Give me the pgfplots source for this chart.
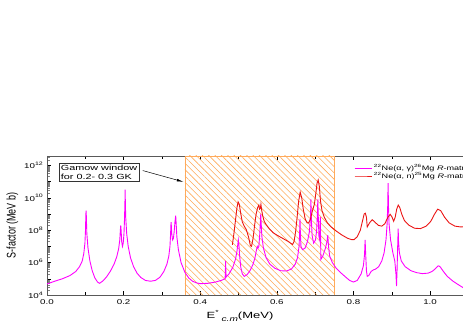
\documentclass[border=0pt]{standalone}
\usepackage{pgfplots}
\pgfplotsset{compat=1.18}
\usepackage{fontspec}
\setmainfont{Liberation Sans}
\usetikzlibrary{patterns.meta,arrows.meta}
\definecolor{mag}{RGB}{255,0,255}
\definecolor{rd}{RGB}{235,20,20}
\definecolor{hatch}{RGB}{255,170,90}
\newcommand{\hs}[1]{\scalebox{1.4}[1]{#1}}
\begin{document}
\begin{tikzpicture}
\useasboundingbox (0,0) rectangle (463bp,327bp);
\begin{axis}[
  at={(47bp,32bp)}, anchor=south west,
  scale only axis, width=429bp, height=139bp,
  xmin=0, xmax=1.12, ymin=4, ymax=12.58,
  xtick={0,0.2,0.4,0.6,0.8,1.0},
  xticklabels={\hs{0.0},\hs{0.2},\hs{0.4},\hs{0.6},\hs{0.8},\hs{1.0}},
  minor xtick={0.1,0.3,0.5,0.7,0.9,1.1},
  ytick={4,5,6,7,8,9,10,11,12},
  yticklabels={\hs{10\textsuperscript{4}},,\hs{10\textsuperscript{6}},,\hs{10\textsuperscript{8}},,\hs{10\textsuperscript{10}},,\hs{10\textsuperscript{12}}},
  minor ytick={4.301,4.477,4.602,4.699,4.778,4.845,4.903,4.954,
               5.301,5.477,5.602,5.699,5.778,5.845,5.903,5.954,
               6.301,6.477,6.602,6.699,6.778,6.845,6.903,6.954,
               7.301,7.477,7.602,7.699,7.778,7.845,7.903,7.954,
               8.301,8.477,8.602,8.699,8.778,8.845,8.903,8.954,
               9.301,9.477,9.602,9.699,9.778,9.845,9.903,9.954,
               10.301,10.477,10.602,10.699,10.778,10.845,10.903,10.954,
               11.301,11.477,11.602,11.699,11.778,11.845,11.903,11.954,
               12.301,12.477},
  tick label style={font=\fontsize{7}{8}\selectfont},
  xticklabel style={yshift=-1bp},
  tick align=inside,
  major tick length=4bp, minor tick length=3bp,
  minor y tick style={gray, line width=0.8pt},
  every tick/.style={black},
  xlabel={\scalebox{1.45}[1]{E\textsuperscript{*}\,\raisebox{-0.7ex}{\fontsize{7}{8}\selectfont\textit{c.m}}(MeV)}},
  ylabel={\scalebox{1}[1.4]{S-factor (MeV b)}},
  label style={font=\fontsize{9}{10}\selectfont},
  xlabel style={at={(ticklabel cs:0.45)}, anchor=north, yshift=1bp},
  ylabel style={yshift=-1bp},
  axis line style={gray!70!black, line width=0.6pt},
  legend style={at={(0.713,0.96)}, anchor=north west, draw=none, fill=none,
    font=\fontsize{6.5}{7}\selectfont, row sep=-3.5pt, inner sep=1pt},
  legend cell align=left,
]
\fill[pattern={Lines[angle=-45,distance=4.5pt,line width=0.6pt]}, pattern color=hatch]
  (axis cs:0.36,4) rectangle (axis cs:0.75,12.58);
\draw[hatch, line width=0.6pt] (axis cs:0.36,4) rectangle (axis cs:0.75,12.58);

\addplot[mag, line width=0.9pt] coordinates {
(0.0,4.68) (0.02,4.85) (0.04,5.0) (0.06,5.2) (0.075,5.45) (0.085,5.75) (0.092,6.1) (0.096,6.55) (0.099,7.2) (0.1005,8.0) (0.1015,9.0) (0.102,9.2) (0.1025,9.0) (0.104,7.8) (0.107,6.9) (0.112,6.1) (0.118,5.5) (0.125,5.05) (0.132,4.8) (0.137,4.72) (0.145,4.85) (0.155,5.1) (0.165,5.45) (0.175,5.9) (0.182,6.35) (0.187,6.85) (0.19,7.4) (0.1915,8.0) (0.1925,8.3) (0.1935,8.0) (0.195,7.3) (0.197,7.0) (0.199,7.2) (0.201,7.8) (0.2025,8.8) (0.2035,9.8) (0.204,10.5) (0.2045,9.8) (0.2055,8.8) (0.208,7.8) (0.212,7.0) (0.218,6.3) (0.226,5.75) (0.235,5.35) (0.245,5.08) (0.257,4.9) (0.27,4.85) (0.283,4.9) (0.295,5.1) (0.305,5.45) (0.313,5.9) (0.318,6.4) (0.321,7.0) (0.3225,7.7) (0.3235,8.3) (0.324,8.5) (0.3245,8.3) (0.326,7.7) (0.328,7.4) (0.330,7.5) (0.332,7.9) (0.334,8.5) (0.336,8.9) (0.337,8.5) (0.339,7.6) (0.343,6.8) (0.35,6.0) (0.36,5.4) (0.37,5.05) (0.38,4.85) (0.39,4.75) (0.40,4.7) (0.42,4.72) (0.44,4.8) (0.455,4.9) (0.465,5.0) (0.4665,6.1) (0.4672,5.1) (0.475,5.3) (0.485,5.7) (0.492,6.2) (0.496,6.7) (0.498,7.1) (0.4995,7.4) (0.501,7.1) (0.503,6.4) (0.506,5.7) (0.51,5.3) (0.515,5.15) (0.522,5.25) (0.53,5.5) (0.538,5.9) (0.543,6.3) (0.547,6.8) (0.549,7.0) (0.551,6.9) (0.553,7.0) (0.555,7.6) (0.557,8.4) (0.558,9.0) (0.559,8.5) (0.561,7.6) (0.565,6.9) (0.572,6.3) (0.582,5.9) (0.595,5.65) (0.61,5.5) (0.625,5.48) (0.638,5.6) (0.648,5.9) (0.654,6.3) (0.658,7.0) (0.6595,7.8) (0.6605,8.7) (0.6615,7.8) (0.663,7.0) (0.667,6.8) (0.674,6.9) (0.68,7.3) (0.685,7.9) (0.688,8.8) (0.689,9.9) (0.690,8.8) (0.692,7.7) (0.696,7.2) (0.701,7.4) (0.704,8.0) (0.706,9.0) (0.707,9.9) (0.708,9.0) (0.710,7.6) (0.712,7.4) (0.7135,8.8) (0.715,6.2) (0.72,6.4) (0.727,6.9) (0.731,7.3) (0.733,7.7) (0.735,7.0) (0.738,6.4) (0.745,6.0) (0.755,5.65) (0.768,5.35) (0.78,5.1) (0.79,4.9) (0.80,4.8) (0.81,4.9) (0.82,5.3) (0.826,5.8) (0.829,6.5) (0.8305,7.4) (0.832,6.5) (0.834,5.5) (0.836,5.15) (0.84,5.2) (0.846,5.45) (0.852,5.55) (0.858,5.6) (0.866,5.75) (0.874,6.1) (0.88,6.6) (0.885,7.4) (0.888,8.4) (0.8895,9.5) (0.8905,10.9) (0.8915,9.5) (0.893,8.4) (0.897,7.4) (0.903,6.6) (0.908,6.1) (0.911,5.3) (0.9125,4.55) (0.914,5.6) (0.9155,7.0) (0.9168,8.1) (0.9178,7.3) (0.92,6.6) (0.925,6.1) (0.935,5.75) (0.95,5.5) (0.965,5.38) (0.98,5.32) (0.995,5.35) (1.005,5.45) (1.013,5.6) (1.02,5.78) (1.023,5.8) (1.027,5.72) (1.035,5.45) (1.045,5.15) (1.06,4.85) (1.075,4.62) (1.09,4.4) (1.12,4.1)
};
\addlegendentry{\hs{\textsuperscript{22}Ne(α, γ)\textsuperscript{26}Mg \textit{R}-matrix}}
\addplot[rd, line width=0.9pt] coordinates {
(0.484,7.1) (0.488,7.8) (0.492,8.6) (0.496,9.4) (0.499,9.75) (0.502,9.6) (0.506,9.0) (0.51,8.5) (0.515,8.25) (0.52,8.05) (0.526,7.6) (0.531,7.05) (0.534,7.0) (0.538,7.5) (0.542,8.3) (0.546,9.0) (0.55,9.4) (0.553,9.55) (0.555,9.3) (0.557,9.35) (0.5585,9.6) (0.56,9.3) (0.563,8.9) (0.567,8.55) (0.572,8.35) (0.58,8.1) (0.59,7.85) (0.60,7.7) (0.615,7.5) (0.63,7.3) (0.641,7.12) (0.645,7.3) (0.649,7.9) (0.653,8.8) (0.657,9.8) (0.661,10.35) (0.665,10.0) (0.669,9.3) (0.674,8.7) (0.679,8.45) (0.683,8.45) (0.688,8.7) (0.693,9.2) (0.698,9.6) (0.702,10.3) (0.705,10.9) (0.708,11.1) (0.711,10.7) (0.714,9.8) (0.718,9.2) (0.724,8.8) (0.732,8.45) (0.742,8.2) (0.755,7.95) (0.77,7.7) (0.785,7.5) (0.795,7.42) (0.802,7.42) (0.81,7.6) (0.818,8.0) (0.824,8.6) (0.828,9.0) (0.831,9.05) (0.834,8.8) (0.836,8.2) (0.842,8.45) (0.849,8.65) (0.856,8.5) (0.865,8.3) (0.874,8.25) (0.882,8.4) (0.89,8.8) (0.896,8.98) (0.901,8.8) (0.905,8.55) (0.909,8.8) (0.913,9.3) (0.917,9.55) (0.921,9.4) (0.926,9.0) (0.933,8.6) (0.945,8.3) (0.96,8.12) (0.975,8.1) (0.99,8.25) (1.002,8.55) (1.012,9.0) (1.02,9.3) (1.028,9.2) (1.038,8.8) (1.05,8.45) (1.065,8.25) (1.08,8.2) (1.09,8.22) (1.12,8.3)
};
\addlegendentry{\hs{\textsuperscript{22}Ne(α, n)\textsuperscript{25}Mg \textit{R}-matrix}}

\node[draw=black!80, fill=white, line width=0.5pt, align=left, inner sep=2pt,
  font=\fontsize{7.5}{8.5}\selectfont] at (axis cs:0.136,11.56)
  {\scalebox{1.45}[1]{Gamow window}\\\scalebox{1.45}[1]{for 0.2- 0.3 GK}};
\draw[-{Latex[length=7pt,width=2.5pt]}, line width=0.5pt] (axis cs:0.25,11.68) -- (axis cs:0.357,10.98);
\end{axis}
\end{tikzpicture}
\end{document}
